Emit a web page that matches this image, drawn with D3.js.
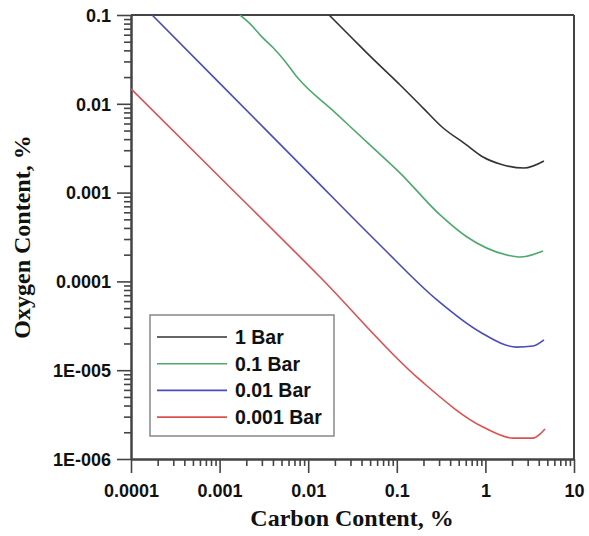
<!DOCTYPE html>
<html><head><meta charset="utf-8">
<script src="https://cdn.jsdelivr.net/npm/d3@7"></script>
<style>body{margin:0;background:#fff;} svg{display:block;}</style>
</head><body>
<script>
// ---- data ----
const seriesNames = ["1 Bar", "0.1 Bar", "0.01 Bar", "0.001 Bar"];
const seriesColors = ["#333333", "#4fa96c", "#4b4bbd", "#de5050"];

const carbon1 = [0.0172, 0.03, 0.05, 0.109, 0.2, 0.324, 0.6, 0.94, 1.46, 2.73, 4.58];
const oxygen1 = [0.1, 0.0573, 0.0344, 0.0163, 0.00888, 0.00548, 0.0035, 0.00252, 0.0021, 0.00189, 0.00227];

const carbon01 = [0.0017, 0.0022, 0.003, 0.004, 0.0055, 0.00748, 0.02, 0.05, 0.109, 0.308, 0.62, 1.75, 2.46, 4.47];
const oxygen01 = [0.1, 0.08, 0.0567, 0.043, 0.03, 0.02, 0.00802, 0.00342, 0.00166, 0.00056, 0.000316, 0.000198, 0.000188, 0.00022];

const carbon001 = [0.000173, 0.001, 0.01, 0.0646, 0.284, 0.87, 2.27, 3.44, 4.58];
const oxygen001 = [0.1, 0.0171, 0.00168, 0.000257, 0.0000618, 0.0000269, 0.0000182, 0.0000187, 0.0000219];

const carbon0001 = [0.0001, 0.001, 0.0136, 0.183, 0.94, 2.05, 3.44, 4.13, 4.7];
const oxygen0001 = [0.0147, 0.0015, 0.000112, 0.00000776, 0.00000229, 0.00000172, 0.00000172, 0.00000191, 0.00000218];

const xTickValues = [0.0001, 0.001, 0.01, 0.1, 1, 10];
const xTickLabels = ["0.0001", "0.001", "0.01", "0.1", "1", "10"];
const yTickValues = [0.000001, 0.00001, 0.0001, 0.001, 0.01, 0.1];
const yTickLabels = ["1E-006", "1E-005", "0.0001", "0.001", "0.01", "0.1"];

const xTitle = "Carbon Content, %";
const yTitle = "Oxygen Content, %";

// ---- chart ----
const W = 589, H = 536;
const L = 131, R = 574, T = 15, B = 459;

const svg = d3.select("body").append("svg").attr("width", W).attr("height", H);

const x = d3.scaleLog().domain([0.0001, 10]).range([L, R]);
const y = d3.scaleLog().domain([0.000001, 0.1]).range([B, T]);

const series = [
  {name: seriesNames[0], color: seriesColors[0], xs: carbon1, ys: oxygen1},
  {name: seriesNames[1], color: seriesColors[1], xs: carbon01, ys: oxygen01},
  {name: seriesNames[2], color: seriesColors[2], xs: carbon001, ys: oxygen001},
  {name: seriesNames[3], color: seriesColors[3], xs: carbon0001, ys: oxygen0001}
];

function minorTicks(lo, hi) {
  const out = [];
  for (let e = Math.log10(lo); e < Math.log10(hi) - 1e-9; e++) {
    for (let k = 2; k <= 9; k++) out.push(k * Math.pow(10, e));
  }
  return out;
}

const axisColor = "#444";
const tickFont = "bold 18px 'Liberation Sans', Arial, sans-serif";

// X axis
const gx = svg.append("g").attr("transform", `translate(0,${B})`);
gx.call(d3.axisBottom(x).tickValues(xTickValues).tickFormat((d, i) => xTickLabels[i]).tickSize(14).tickSizeOuter(0));
gx.append("g").call(d3.axisBottom(x).tickValues(minorTicks(0.0001, 10)).tickFormat("").tickSize(7).tickSizeOuter(0));
gx.selectAll("path.domain").attr("stroke", axisColor).attr("stroke-width", 2);
gx.selectAll(".tick line").attr("stroke", axisColor).attr("stroke-width", 1.6);
gx.selectAll(".tick text").style("font", tickFont).attr("fill", "#111").attr("dy", "0").attr("y", 38);

// Y axis
const gy = svg.append("g").attr("transform", `translate(${L},0)`);
gy.call(d3.axisLeft(y).tickValues(yTickValues).tickFormat((d, i) => yTickLabels[i]).tickSize(14).tickSizeOuter(0));
gy.append("g").call(d3.axisLeft(y).tickValues(minorTicks(0.000001, 0.1)).tickFormat("").tickSize(7).tickSizeOuter(0));
gy.selectAll("path.domain").attr("stroke", axisColor).attr("stroke-width", 2);
gy.selectAll(".tick line").attr("stroke", axisColor).attr("stroke-width", 1.6);
gy.selectAll(".tick text").style("font", tickFont).attr("fill", "#111").attr("x", -20).attr("dy", "0.35em");

// frame top/right
svg.append("line").attr("x1", L).attr("x2", R).attr("y1", T).attr("y2", T).attr("stroke", axisColor).attr("stroke-width", 2);
svg.append("line").attr("x1", R).attr("x2", R).attr("y1", T).attr("y2", B).attr("stroke", axisColor).attr("stroke-width", 2);

svg.append("clipPath").attr("id", "clip").append("rect").attr("x", L).attr("y", T).attr("width", R - L).attr("height", B - T);

const line = d3.line().x(d => x(d[0])).y(d => y(d[1])).curve(d3.curveMonotoneX);
svg.append("g").attr("clip-path", "url(#clip)").selectAll("path").data(series).join("path")
  .attr("d", s => line(s.xs.map((v, i) => [v, s.ys[i]])))
  .attr("fill", "none").attr("stroke", s => s.color).attr("stroke-width", 1.6).attr("stroke-linejoin", "round");

// legend
const lg = svg.append("g");
lg.append("rect").attr("x", 150).attr("y", 315).attr("width", 184).attr("height", 121)
  .attr("fill", "#fff").attr("stroke", "#888").attr("stroke-width", 1.5);
series.forEach((s, i) => {
  const yy = 337 + i * 26.7;
  lg.append("line").attr("x1", 157).attr("x2", 227).attr("y1", yy).attr("y2", yy).attr("stroke", s.color).attr("stroke-width", 1.6);
  lg.append("text").attr("x", 235).attr("y", yy).attr("dy", "0.36em").text(s.name)
    .style("font", "bold 19.5px 'Liberation Sans', Arial, sans-serif").attr("fill", "#111");
});

// titles
svg.append("text").attr("x", 352).attr("y", 526).attr("text-anchor", "middle").text(xTitle)
  .style("font", "bold 24px 'Liberation Serif', 'Times New Roman', serif").attr("fill", "#111");
svg.append("text").attr("transform", `translate(30,${(T + B) / 2}) rotate(-90)`).attr("text-anchor", "middle").text(yTitle)
  .style("font", "bold 24px 'Liberation Serif', 'Times New Roman', serif").attr("fill", "#111");
</script>
</body></html>
